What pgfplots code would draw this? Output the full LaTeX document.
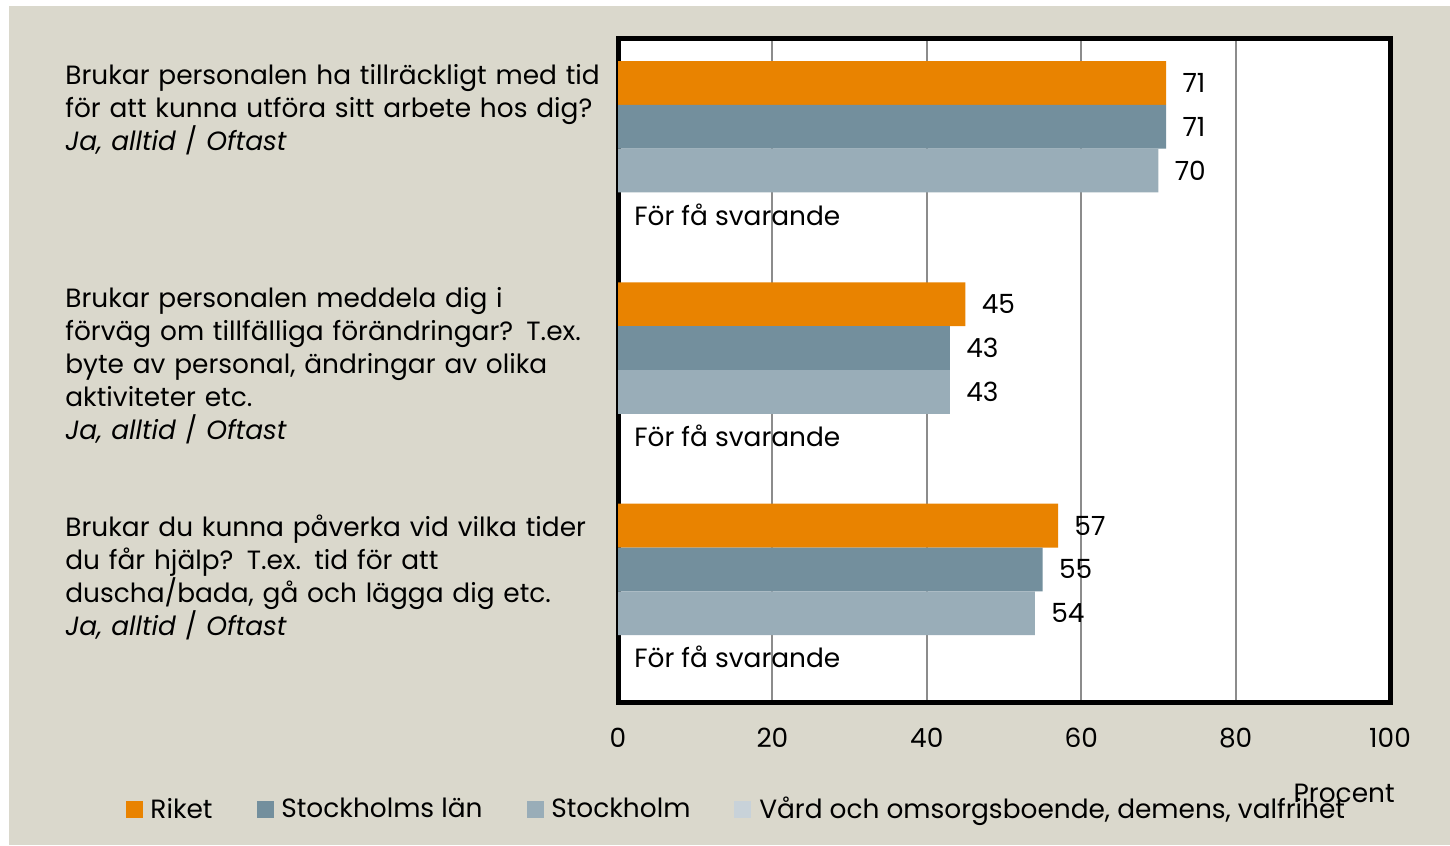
\documentclass[border=0pt]{standalone}
\usepackage{fontspec}
\setmainfont{Poppins}
\usepackage{pgfplots}
\pgfplotsset{compat=1.18}
\definecolor{cA}{HTML}{E98300}
\definecolor{cB}{HTML}{738F9D}
\definecolor{cC}{HTML}{99ADB8}
\definecolor{cD}{HTML}{C8D2D9}
\definecolor{beige}{HTML}{DAD8CC}
\definecolor{gridc}{HTML}{8C8C8C}
\begin{document}
\begin{tikzpicture}[x=1bp,y=1bp]
\useasboundingbox (0,0) rectangle (725,422.5);
\fill[white] (0,0) rectangle (725,422.5);
\fill[beige] (4.5,0) rectangle (725,419.5);
\begin{axis}[
  at={(309bp,71.5bp)}, anchor=south west,
  scale only axis, width=386bp, height=332bp,
  xbar, bar width=0.198,
  xmin=0, xmax=100, ymin=-0.5, ymax=2.5, y dir=reverse,
  xtick={0,20,40,60,80,100},
  ytick={-0.396,0.613,1.640},
  yticklabels={
    {Brukar personalen ha tillräckligt med tid\\för att kunna utföra sitt arbete hos dig?\\\textit{Ja, alltid} / \textit{Oftast}},
    {Brukar personalen meddela dig i\\förväg om tillfälliga förändringar? T.ex.\\byte av personal, ändringar av olika\\aktiviteter etc.\\\textit{Ja, alltid} / \textit{Oftast}},
    {Brukar du kunna påverka vid vilka tider\\du får hjälp? T.ex. tid för att\\duscha/bada, gå och lägga dig etc.\\\textit{Ja, alltid} / \textit{Oftast}}},
  major tick length=0pt,
  /pgf/number format/assume math mode=true,
  font=\fontsize{13.2bp}{16.5bp}\selectfont,
  yticklabel style={anchor=north west, align=left, text width=300bp, inner sep=0pt, xshift=-276.5bp, yshift=-1.5bp},
  xticklabel style={anchor=north, inner sep=0pt, yshift=-13bp},
  xmajorgrids, major grid style={gridc, line width=1bp},
  axis line style={black, line width=2.5bp},
  axis background/.style={fill=white},
  xlabel={Procent},
  xlabel style={at={(axis description cs:1,-0.137)}, anchor=east, inner sep=0pt, xshift=2.5bp},
  nodes near coords,
  every node near coord/.append style={anchor=west, inner sep=0pt, xshift=8bp, black},
  legend style={at={(axis description cs:-0.646,-0.162)}, anchor=west, draw=none, fill=none,
    legend columns=4, font=\fontsize{13.2bp}{16.5bp}\selectfont,
    /tikz/every odd column/.append style={column sep=4bp},
    /tikz/every even column/.append style={column sep=22bp},
    nodes={inner sep=0pt, anchor=west}},
]
\addplot[fill=cA, draw=none, bar shift=-0.297, forget plot] coordinates {(71,0) (45,1) (57,2)};
\addplot[fill=cB, draw=none, bar shift=-0.099, forget plot] coordinates {(71,0) (43,1) (55,2)};
\addplot[fill=cC, draw=none, bar shift=0.099, forget plot] coordinates {(70,0) (43,1) (54,2)};
\addplot[draw=none, fill=none, bar shift=0.297, forget plot, nodes near coords={För få svarande}] coordinates {(0,0) (0,1) (0,2)};
\addlegendimage{legend image code/.code={\fill[cA] (0bp,-4bp) rectangle (8bp,4bp);}}
\addlegendentry{Riket}
\addlegendimage{legend image code/.code={\fill[cB] (0bp,-4bp) rectangle (8bp,4bp);}}
\addlegendentry{Stockholms län}
\addlegendimage{legend image code/.code={\fill[cC] (0bp,-4bp) rectangle (8bp,4bp);}}
\addlegendentry{Stockholm}
\addlegendimage{legend image code/.code={\fill[cD] (0bp,-4bp) rectangle (8bp,4bp);}}
\addlegendentry{Vård och omsorgsboende, demens, valfrihet}
\end{axis}
\end{tikzpicture}
\end{document}
